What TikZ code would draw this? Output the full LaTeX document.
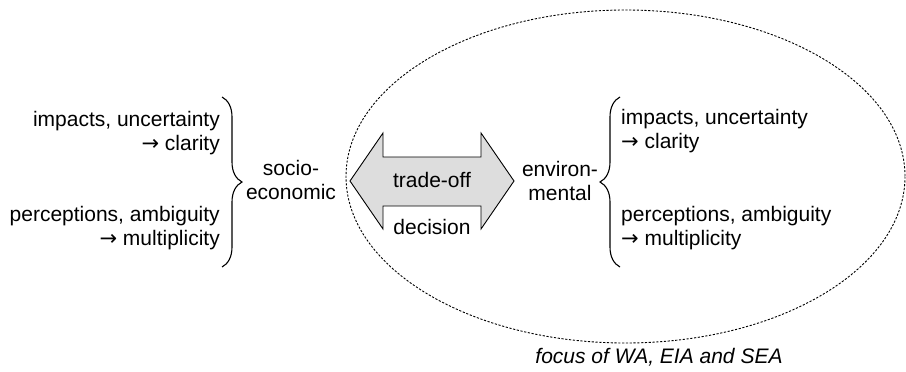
\documentclass[tikz,border=0pt]{standalone}
\usepackage{fontspec}
\setmainfont{Liberation Sans}
\newfontfamily\arrowfont{DejaVu Sans}
\newcommand{\myarrow}{{\arrowfont →}}
\usetikzlibrary{decorations.pathreplacing}
\begin{document}
\begin{tikzpicture}[x=1pt,y=-1pt,
  txt/.style={inner sep=0pt, font=\fontsize{21}{24}\selectfont},
  bracestyle/.style={decorate, decoration={brace, amplitude=20pt}, line width=1.1pt},
  focusline/.style={line width=0.9pt, dash pattern=on 2.2pt off 1.6pt}]
\useasboundingbox (0,0) rectangle (906,372);
% ellipse
\draw[focusline] (625.5,176.5) ellipse [x radius=279.5, y radius=166.5];
% double arrow
\draw[fill={rgb,255:red,221;green,221;blue,221}, line width=0.9pt]
  (350,181) -- (383,133) -- (383,157) -- (481,157) -- (481,133) -- (514,181)
  -- (481,229) -- (481,206) -- (383,206) -- (383,229) -- cycle;
\node[txt] (trade) at (432,180) {trade-off};
\node[txt] (dec) at (432,227) {decision};
% left side
\node[txt, align=right, anchor=east] (limp) at (220,133.5) {impacts, uncertainty\\\myarrow{} clarity};
\node[txt, align=right, anchor=east] (lper) at (220,228.5) {perceptions, ambiguity\\\myarrow{} multiplicity};
\node[txt, align=center] (socio) at (291,180) {socio-\\economic};
\coordinate (lbt) at (222,97);
\coordinate (lbb) at (222,267);
\draw[bracestyle] (lbt) -- (lbb);
% right side
\node[txt, align=center] (env) at (560,180.5) {environ-\\mental};
\node[txt, align=left, anchor=west] (rimp) at (621,131.5) {impacts, uncertainty\\\myarrow{} clarity};
\node[txt, align=left, anchor=west] (rper) at (621,228.5) {perceptions, ambiguity\\\myarrow{} multiplicity};
\coordinate (rbb) at (620,267);
\coordinate (rbt) at (620,97);
\draw[bracestyle] (rbb) -- (rbt);
% caption
\node[txt, font=\fontsize{21}{24}\selectfont\itshape] (focus) at (659,357) {focus of WA, EIA and SEA};
\end{tikzpicture}
\end{document}
